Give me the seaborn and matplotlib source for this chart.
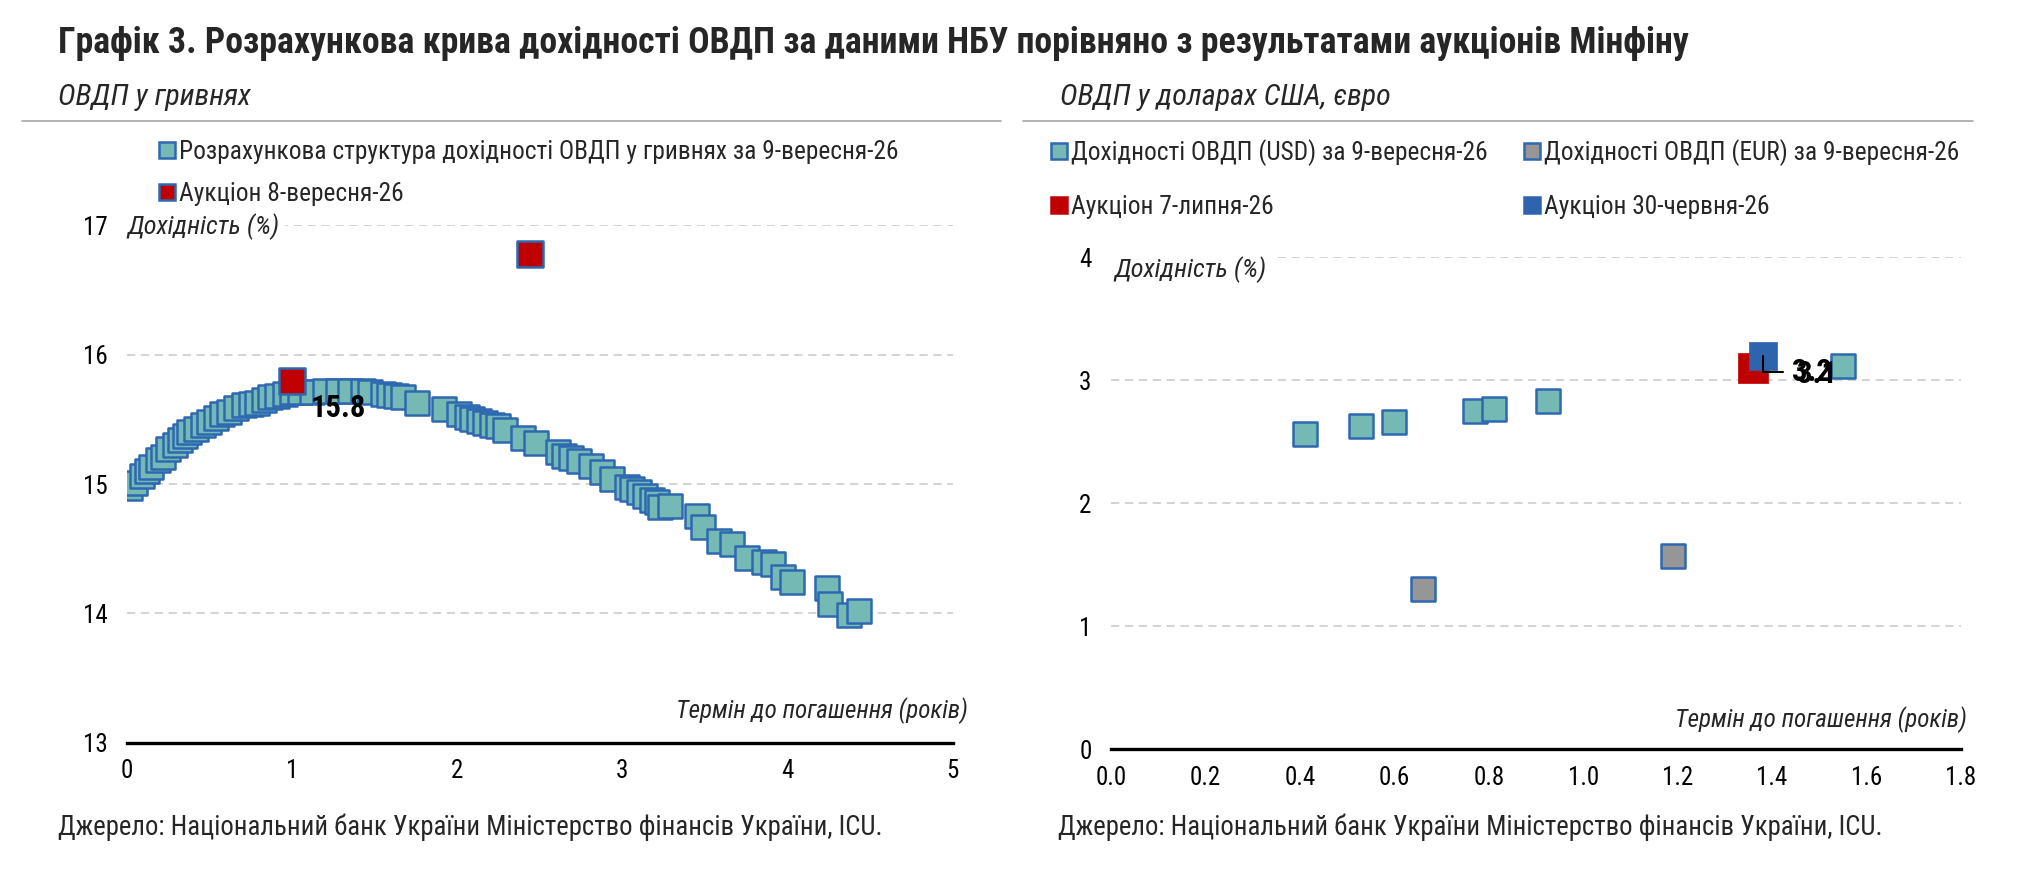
import numpy as np
import pandas as pd
import seaborn as sns
import matplotlib.pyplot as plt
from matplotlib.lines import Line2D
from matplotlib import font_manager as fm
import matplotlib.ticker as mticker

# ліва панель: ОВДП у гривнях (термін, років / дохідність, %)
uah_term = [0.02, 0.05, 0.09, 0.125, 0.15, 0.19, 0.22, 0.25, 0.29, 0.32,
            0.35, 0.38, 0.42, 0.46, 0.50, 0.54, 0.575, 0.62, 0.66, 0.71,
            0.75, 0.79, 0.83, 0.87, 0.91, 0.96, 1.00, 1.05, 1.12, 1.20,
            1.28, 1.35, 1.43, 1.47, 1.55, 1.59, 1.63, 1.67, 1.76, 1.92,
            2.01, 2.06, 2.09, 2.13, 2.17, 2.21, 2.25, 2.29, 2.40, 2.48,
            2.61, 2.65, 2.69, 2.74, 2.81, 2.88, 2.94, 3.03, 3.06, 3.10,
            3.14, 3.18, 3.21, 3.23, 3.29, 3.45, 3.49, 3.585, 3.666, 3.757,
            3.86, 3.91, 3.97, 4.03, 4.24, 4.26, 4.37, 4.43]
uah_yield = [14.97, 15.01, 15.06, 15.10, 15.13, 15.19, 15.21, 15.27, 15.30, 15.34,
             15.37, 15.40, 15.43, 15.46, 15.48, 15.51, 15.54, 15.56, 15.59, 15.61,
             15.62, 15.63, 15.65, 15.67, 15.68, 15.70, 15.71, 15.71, 15.71, 15.72,
             15.72, 15.72, 15.72, 15.71, 15.70, 15.69, 15.68, 15.67, 15.63, 15.58,
             15.54, 15.52, 15.50, 15.49, 15.47, 15.46, 15.45, 15.42, 15.36, 15.32,
             15.25, 15.22, 15.20, 15.18, 15.14, 15.09, 15.04, 14.98, 14.96, 14.94,
             14.91, 14.88, 14.86, 14.82, 14.83, 14.75, 14.67, 14.56, 14.54, 14.43,
             14.40, 14.38, 14.28, 14.24, 14.20, 14.07, 13.99, 14.02]
auc_uah_term = [1.00, 2.44]
auc_uah_yield = [15.8, 16.78]

# права панель: ОВДП у доларах США, євро
usd_term = [0.41, 0.53, 0.60, 0.77, 0.81, 0.925, 1.55]
usd_yield = [2.56, 2.63, 2.66, 2.75, 2.77, 2.83, 3.12]
eur_term = [0.66, 1.19]
eur_yield = [1.30, 1.57]
auc_jul_term = [1.36]
auc_jul_yield = [3.1]
auc_jun_term = [1.38]
auc_jun_yield = [3.2]

title = ('Графік 3. Розрахункова крива дохідності ОВДП за даними НБУ '
         'порівняно з результатами аукціонів Мінфіну')
sub_left = 'ОВДП у гривнях'
sub_right = 'ОВДП у доларах США, євро'
src = 'Джерело: Національний банк України Міністерство фінансів України, ICU.'
ylab = 'Дохідність (%)'
xlab = 'Термін до погашення (років)'
leg_left = ['Розрахункова структура дохідності ОВДП у гривнях за 9-вересня-26',
            'Аукціон 8-вересня-26']
leg_right = ['Дохідності ОВДП (USD) за 9-вересня-26', 'Аукціон 7-липня-26',
             'Дохідності ОВДП (EUR) за 9-вересня-26', 'Аукціон 30-червня-26']

teal = '#75B9B5'
edge = '#2E68B1'
red = '#C00000'
gray = '#969696'
blue = '#2E64AE'

sns.set_style('white')

# вузький шрифт, якщо є
fonts = {(f.name, f.stretch) for f in fm.fontManager.ttflist}
names = {f[0] for f in fonts}
stretch = 'normal'
if 'Liberation Sans Narrow' in names:
    fam = 'Liberation Sans Narrow'
elif 'Roboto Condensed' in names:
    fam = 'Roboto Condensed'
elif ('DejaVu Sans', 'condensed') in fonts:
    fam, stretch = 'DejaVu Sans', 'condensed'
else:
    fam = 'Liberation Sans'
plt.rcParams['font.family'] = [fam, 'DejaVu Sans']
plt.rcParams['font.stretch'] = stretch

W, H = 2022, 871
fig = plt.figure(figsize=(W / 100, H / 100), dpi=100)
renderer = fig.canvas.get_renderer()


def fx(px):
    return px / W


def fy(py):
    return 1 - py / H


def fit(s, target, **kw):
    # розмір шрифту, за якого текст має потрібну ширину (px)
    t = fig.text(0, 0, s, fontsize=20, **kw)
    w = t.get_window_extent(renderer).width
    t.remove()
    return 20 * target / w


fs_title = fit(title, 1625, fontweight='bold')
fs_sub = fit(sub_left, 193, style='italic')
fs_leg = fit(leg_left[0], 718)
fs_src = fit(src, 823)
fs_xlab = fit(xlab, 292, style='italic')
fs_ylab = fit(ylab, 152, style='italic')
fs_lab = 22
fs_tick = 18

ax1 = fig.add_axes([fx(126.7), fy(742.7), fx(952.7) - fx(126.7), fy(225.5) - fy(742.7)])
ax2 = fig.add_axes([fx(1111), fy(749.3), fx(1961) - fx(1111), fy(257.3) - fy(749.3)])


def style_axis(ax):
    for s in ['top', 'right', 'left']:
        ax.spines[s].set_visible(False)
    ax.spines['bottom'].set_linewidth(2.4)
    ax.spines['bottom'].set_color('black')
    ax.tick_params(axis='x', length=5, width=2, pad=7, labelsize=fs_tick,
                   direction='out', colors='black')
    ax.tick_params(axis='y', length=0, pad=14, labelsize=fs_tick, colors='black')
    ax.grid(axis='y', color='#C8C8C8', linestyle=(0, (5.4, 3.7)), linewidth=1.1)
    ax.grid(axis='x', visible=False)
    ax.set_axisbelow(True)
    ax.set_xlabel('')
    ax.set_ylabel('')


# ліва панель
sns.scatterplot(x=uah_term, y=uah_yield, ax=ax1, marker='s', s=16.6 ** 2,
                color=teal, edgecolor=edge, linewidth=1.8, zorder=3, legend=False)
sns.scatterplot(x=auc_uah_term, y=auc_uah_yield, ax=ax1, marker='s', s=19.3 ** 2,
                color=red, edgecolor=edge, linewidth=1.8, zorder=4, legend=False)
ax1.set_xlim(0, 5)
ax1.set_ylim(13, 17)
ax1.set_xticks(range(0, 6))
ax1.set_yticks(range(13, 18))
style_axis(ax1)
ax1.annotate('15.8', xy=(auc_uah_term[0], auc_uah_yield[0]), xytext=(19, -27),
             textcoords='offset pixels', ha='left', va='center',
             fontsize=fs_lab, fontweight='bold', color='black', zorder=6)

# права панель
sns.scatterplot(x=usd_term, y=usd_yield, ax=ax2, marker='s', s=16.6 ** 2,
                color=teal, edgecolor=edge, linewidth=1.8, zorder=3, legend=False)
sns.scatterplot(x=eur_term, y=eur_yield, ax=ax2, marker='s', s=16.6 ** 2,
                color=gray, edgecolor=edge, linewidth=1.8, zorder=3, legend=False)
sns.scatterplot(x=auc_jul_term, y=auc_jul_yield, ax=ax2, marker='s', s=21 ** 2,
                color=red, edgecolor=red, linewidth=0.5, zorder=4, legend=False)
sns.scatterplot(x=auc_jun_term, y=auc_jun_yield, ax=ax2, marker='s', s=19.5 ** 2,
                color=blue, edgecolor=blue, linewidth=0.5, zorder=5, legend=False)
ax2.set_xlim(0, 1.8)
ax2.set_ylim(0, 4)
ax2.set_xticks(np.arange(0, 1.81, 0.2))
ax2.set_yticks(range(0, 5))
ax2.xaxis.set_major_formatter(mticker.FormatStrFormatter('%.1f'))
style_axis(ax2)
ax2.annotate('%.1f' % auc_jun_yield[0], xy=(auc_jun_term[0], auc_jun_yield[0]),
             xytext=(29, -16), textcoords='offset pixels', ha='left', va='center',
             fontsize=fs_lab, fontweight='bold', color='black', zorder=7,
             arrowprops=dict(arrowstyle='-', color='black', lw=1.5,
                             connectionstyle='angle,angleA=0,angleB=90',
                             relpos=(0, 0.5), shrinkA=4, shrinkB=0))
ax2.annotate('%.1f' % auc_jul_yield[0], xy=(auc_jul_term[0], auc_jul_yield[0]),
             xytext=(44, -6), textcoords='offset pixels', ha='left', va='center',
             fontsize=fs_lab, fontweight='bold', color='black', zorder=7)

# підписи осей
lab_box = dict(facecolor='white', edgecolor='none', pad=4)
fig.text(fx(127), fy(227), ylab, fontsize=fs_ylab, style='italic',
         ha='left', va='center', bbox=lab_box, zorder=10)
fig.text(fx(1114), fy(270), ylab, fontsize=fs_ylab, style='italic',
         ha='left', va='center', bbox=lab_box, zorder=10)
fig.text(fx(968), fy(711), xlab, fontsize=fs_xlab, style='italic',
         ha='right', va='center')
fig.text(fx(1967), fy(720), xlab, fontsize=fs_xlab, style='italic',
         ha='right', va='center')


# легенди
def handle(fc, ec, ms=12):
    return Line2D([], [], marker='s', linestyle='none', markersize=ms,
                  markerfacecolor=fc, markeredgecolor=ec, markeredgewidth=1.8)


hl = 0.7 * 18 / fs_leg
fig.legend([handle(teal, edge), handle(red, edge)], leg_left,
           loc='upper left', bbox_to_anchor=(fx(158), fy(140)), frameon=False,
           fontsize=fs_leg, handletextpad=0.15, handlelength=hl,
           labelspacing=0.72 * 18 / fs_leg, borderaxespad=0, borderpad=0)
fig.legend([handle(teal, edge), handle(red, red), handle(gray, edge), handle(blue, blue)],
           leg_right, loc='upper left', bbox_to_anchor=(fx(1050), fy(139)),
           frameon=False, ncol=2, fontsize=fs_leg, handletextpad=0.15,
           handlelength=hl, labelspacing=1.15 * 18 / fs_leg,
           columnspacing=1.4 * 18 / fs_leg, borderaxespad=0, borderpad=0)

# заголовки
fig.text(fx(58), fy(43), title, fontsize=fs_title, fontweight='bold',
         ha='left', va='center')
fig.text(fx(58), fy(97), sub_left, fontsize=fs_sub, style='italic',
         ha='left', va='center')
fig.text(fx(1060), fy(97), sub_right, fontsize=fs_sub, style='italic',
         ha='left', va='center')
fig.add_artist(Line2D([fx(22), fx(1001)], [fy(121), fy(121)], color='#A6A6A6', lw=1.2))
fig.add_artist(Line2D([fx(1023), fx(1973)], [fy(121), fy(121)], color='#A6A6A6', lw=1.2))

# джерела
fig.text(fx(58), fy(827), src, fontsize=fs_src, ha='left', va='center')
fig.text(fx(1058), fy(827), src, fontsize=fs_src, ha='left', va='center')

fig.savefig('out.png', dpi=100)
